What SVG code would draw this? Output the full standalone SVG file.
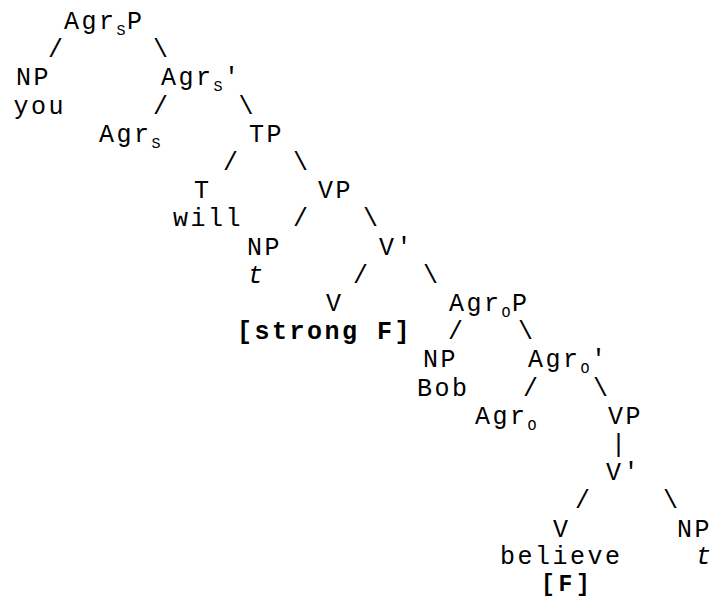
<svg xmlns="http://www.w3.org/2000/svg" width="712" height="598" viewBox="0 0 712 598">
<style>
text{font-family:"Liberation Mono","Courier New",monospace;font-size:25px;letter-spacing:2.5px;fill:#000;}
.sub{font-size:15px;letter-spacing:1.5px;}
.b{font-weight:bold;}
.i{font-style:italic;}
.f{font-size:23px;letter-spacing:3.7px;}
</style>
<rect width="712" height="598" fill="#fff"/>
<g id="connectors">
<text x="48" y="57.2">/</text><text x="153" y="57.2">\</text>
<text x="153" y="113.6">/</text><text x="238.5" y="113.6">\</text>
<text x="223" y="170">/</text><text x="293" y="170">\</text>
<text x="293" y="226.4">/</text><text x="363" y="226.4">\</text>
<text x="353" y="282.8">/</text><text x="423" y="282.8">\</text>
<text x="448" y="339.2">/</text><text x="518" y="339.2">\</text>
<text x="523" y="395.6">/</text><text x="593" y="395.6">\</text>
<text x="611" y="452">|</text>
<text x="575" y="508.4">/</text><text x="663" y="508.4">\</text>
</g>
<g id="n-agrsp"><text x="64" y="29">Agr<tspan class="sub" dy="6">S</tspan><tspan dy="-6">P</tspan></text></g>
<g id="n-np-you"><text x="16" y="85.4">NP</text><text x="13.5" y="113.6">you</text></g>
<g id="n-agrs-bar"><text x="161" y="85.4">Agr<tspan class="sub" dy="6">S</tspan><tspan dy="-6">'</tspan></text></g>
<g id="n-agrs"><text x="99" y="141.8">Agr<tspan class="sub" dy="6">S</tspan></text></g>
<g id="n-tp"><text x="249" y="141.8">TP</text></g>
<g id="n-t-will"><text x="194" y="198.2">T</text><text x="173" y="226.4">will</text></g>
<g id="n-vp1"><text x="318" y="198.2">VP</text></g>
<g id="n-np-t1"><text x="247" y="254.6">NP</text><text class="i" x="248" y="282.8">t</text></g>
<g id="n-vbar1"><text x="379" y="254.6">V'</text></g>
<g id="n-v-strong"><text x="326" y="311">V</text><text class="b" x="237" y="339.2">[strong F]</text></g>
<g id="n-agrop"><text x="449" y="311">Agr<tspan class="sub" dy="6">O</tspan><tspan dy="-6">P</tspan></text></g>
<g id="n-np-bob"><text x="423" y="367.4">NP</text><text x="417" y="395.6">Bob</text></g>
<g id="n-agro-bar"><text x="528" y="367.4">Agr<tspan class="sub" dy="6">O</tspan><tspan dy="-6">'</tspan></text></g>
<g id="n-agro"><text x="475" y="423.8">Agr<tspan class="sub" dy="6">O</tspan></text></g>
<g id="n-vp2"><text x="608" y="423.8">VP</text></g>
<g id="n-vbar2"><text x="606" y="480.2">V'</text></g>
<g id="n-v-believe"><text x="553" y="536.6">V</text><text x="500" y="564.3">believe</text><text class="b f" x="541" y="591">[F]</text></g>
<g id="n-np-t2"><text x="677" y="536.6">NP</text><text class="i" x="696" y="564.3">t</text></g>
</svg>
